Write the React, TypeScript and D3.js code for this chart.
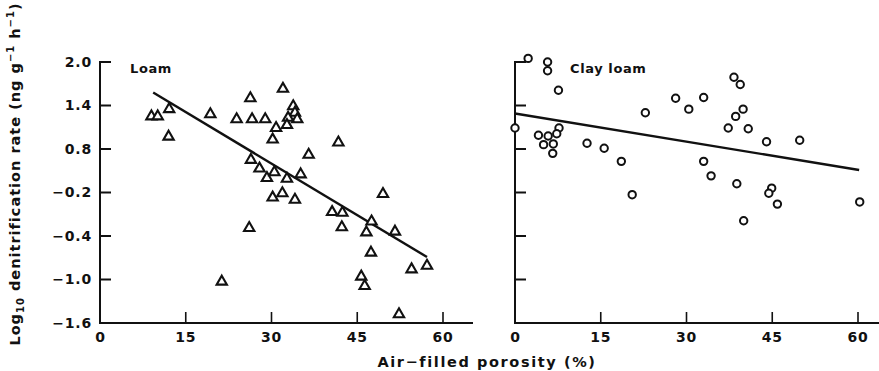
import React from 'react';
import * as d3 from 'd3';

// Loam panel (triangles)
const loamX = [9.0, 10.1, 12.1, 12.0, 19.3, 23.9, 26.6, 28.9, 26.3, 32.0, 33.8, 34.1, 34.5, 32.9, 32.7, 30.8, 30.2, 36.5, 41.7, 26.4, 27.9, 29.2, 30.5, 32.7, 35.1, 31.9, 30.2, 34.1, 26.1, 21.3, 40.6, 42.4, 42.3, 49.5, 47.5, 46.6, 51.6, 47.4, 54.5, 57.2, 45.7, 46.3, 52.3];
const loamY = [1.25, 1.25, 1.35, 0.97, 1.28, 1.21, 1.21, 1.21, 1.5, 1.63, 1.39, 1.3, 1.21, 1.23, 1.13, 1.09, 0.93, 0.72, 0.89, 0.65, 0.53, 0.4, 0.48, 0.39, 0.45, 0.19, 0.13, 0.1, -0.29, -1.03, -0.07, -0.08, -0.28, 0.18, -0.2, -0.35, -0.34, -0.63, -0.86, -0.81, -0.96, -1.09, -1.48];
const loamFitX = [9.3, 57.2];
const loamFitY = [1.58, -0.69];

// Clay loam panel (circles)
const clayX = [2.3, 5.7, 5.7, 7.6, 0, 4.1, 5.8, 7.7, 7.3, 5.0, 6.7, 6.6, 12.6, 15.6, 18.6, 20.5, 22.8, 28.1, 30.4, 33.0, 38.3, 39.4, 39.9, 38.6, 37.3, 40.8, 44.0, 49.8, 33.0, 34.3, 38.8, 44.9, 44.4, 45.9, 40.0, 60.3];
const clayY = [2.05, 2.0, 1.88, 1.61, 1.09, 0.99, 0.98, 1.09, 1.01, 0.86, 0.87, 0.74, 0.88, 0.81, 0.63, 0.17, 1.3, 1.5, 1.35, 1.51, 1.79, 1.69, 1.35, 1.25, 1.09, 1.08, 0.9, 0.92, 0.63, 0.43, 0.32, 0.26, 0.19, 0.04, -0.19, 0.07];
const clayFitX = [0, 60.2];
const clayFitY = [1.29, 0.51];

const xTicks = [15, 30, 45, 60];
const xTickLabels = ['15', '30', '45', '60'];
const yTicks = [2.0, 1.4, 0.8, 0.2, -0.4, -1.0, -1.6];
const yTickLabels = ['2.0', '1.4', '0.8', '\u22120.2', '\u22120.4', '\u22121.0', '\u22121.6'];

const W = 879;
const H = 371;
const FONT = '"DejaVu Sans", sans-serif';

const y = d3.scaleLinear().domain([-1.6, 2.0]).range([323, 62]);

function Panel({ x0, xEnd, xs, ys, fitX, fitY, marker, label, labelX, showYLabels }) {
  const x = d3.scaleLinear().domain([0, 60]).range([x0, x0 + 343]);
  const line = d3.line().x((d) => x(d[0])).y((d) => y(d[1]));
  const tri = d3.symbol(d3.symbolTriangle, 46)();
  const tickLen = 11;

  return (
    <g>
      {/* axes */}
      <path
        d={`M${x0 + tickLen},${y(2.0)}H${x0}V${y(-1.6)}H${xEnd}`}
        fill="none"
        stroke="#111"
        strokeWidth={2}
      />
      {yTicks.slice(1, -1).map((t) => (
        <line key={t} x1={x0} x2={x0 + tickLen} y1={y(t)} y2={y(t)} stroke="#111" strokeWidth={2} />
      ))}
      {xTicks.map((t) => (
        <line key={t} x1={x(t)} x2={x(t)} y1={y(-1.6)} y2={y(-1.6) - tickLen} stroke="#111" strokeWidth={1.6} />
      ))}
      {showYLabels &&
        yTicks.map((t, i) => (
          <text key={t} x={x0 - 8} y={y(t)} dy="0.35em" textAnchor="end" fontSize={14} fontWeight="bold" letterSpacing={0.8} fill="#111">
            {yTickLabels[i]}
          </text>
        ))}
      <text x={x(0)} y={y(-1.6) + 19} textAnchor="middle" fontSize={14} fontWeight="bold" fill="#111">0</text>
      {xTicks.map((t, i) => (
        <text key={t} x={x(t)} y={y(-1.6) + 19} textAnchor="middle" fontSize={14} fontWeight="bold" letterSpacing={0.8} fill="#111">
          {xTickLabels[i]}
        </text>
      ))}
      <text x={labelX} y={y(2.0) + 11} fontSize={13} fontWeight="bold" letterSpacing={0.6} fill="#111">{label}</text>

      {/* fit line */}
      <path d={line(fitX.map((v, i) => [v, fitY[i]]))} fill="none" stroke="#111" strokeWidth={2.4} />

      {/* points */}
      {xs.map((v, i) =>
        marker === 'triangle' ? (
          <path key={i} d={tri} transform={`translate(${x(v)},${y(ys[i])})`} fill="#fff" stroke="#111" strokeWidth={2.1} />
        ) : (
          <circle key={i} cx={x(v)} cy={y(ys[i])} r={3.7} fill="#fff" stroke="#111" strokeWidth={2} />
        )
      )}
    </g>
  );
}

export default function App() {
  return (
    <svg
      width={W}
      height={H}
      style={{ position: 'absolute', left: 0, top: 0, background: '#fff' }}
      fontFamily={FONT}
    >
      <Panel x0={100} xEnd={473} xs={loamX} ys={loamY} fitX={loamFitX} fitY={loamFitY} marker="triangle" label="Loam" labelX={130} showYLabels />
      <Panel x0={515} xEnd={879} xs={clayX} ys={clayY} fitX={clayFitX} fitY={clayFitY} marker="circle" label="Clay loam" labelX={570} showYLabels={false} />

      <text
        transform="translate(20,174) rotate(-90)"
        textAnchor="middle"
        fontSize={14.5}
        fontWeight="bold"
        letterSpacing={1}
        fill="#111"
      >
        Log<tspan fontSize={10} dy={4}>10</tspan>
        <tspan dy={-4}> denitrification rate (ng g</tspan>
        <tspan fontSize={10} dy={-6}>−1</tspan>
        <tspan dy={6}> h</tspan>
        <tspan fontSize={10} dy={-6}>−1</tspan>
        <tspan dy={6}>)</tspan>
      </text>

      <text x={487} y={367} textAnchor="middle" fontSize={14.5} fontWeight="bold" letterSpacing={1.6} fill="#111">
        Air−filled porosity (%)
      </text>
    </svg>
  );
}
